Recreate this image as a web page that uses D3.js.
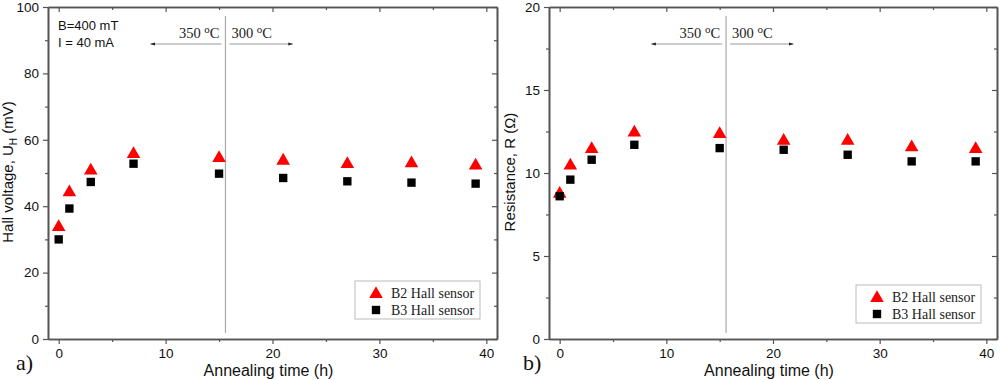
<!DOCTYPE html>
<html>
<head>
<meta charset="utf-8">
<script src="https://d3js.org/d3.v7.min.js"></script>
<style>
  body { margin: 0; background: #fff; }
  svg text { font-family: "Liberation Sans", Arial, sans-serif; }
  .serif { font-family: "Liberation Serif", "Times New Roman", serif !important; }
</style>
</head>
<body>
<svg id="chart" width="1000" height="380"></svg>
<script>
// annealing times (h)
var hours = [0, 1, 3, 7, 15, 21, 27, 33, 39];

// panel a) Hall voltage (mV)
var hallB2 = [34, 44.5, 51, 56, 54.8, 54, 53, 53.2, 52.5];
var hallB3 = [30, 39.3, 47.3, 52.8, 49.8, 48.5, 47.5, 47.1, 46.8];

// panel b) resistance (Ohm)
var resB2 = [8.8, 10.5, 11.5, 12.5, 12.4, 12.0, 12.0, 11.6, 11.5];
var resB3 = [8.6, 9.6, 10.8, 11.7, 11.5, 11.4, 11.1, 10.7, 10.7];

var hallTicks = [0, 20, 40, 60, 80, 100];
var resTicks = [0, 5, 10, 15, 20];
var xTicks = [0, 10, 20, 30, 40];
var switchTime = 15.6;

var svg = d3.select('#chart');
var axisColor = '#555';
var plotTop = 7;

function drawPanel(opt) {
  var x = d3.scaleLinear().domain([-1, 41]).range([opt.left, opt.right]);
  var y = d3.scaleLinear().domain(opt.yDomain).range([339, plotTop]);
  var g = svg.append('g');

  // bottom axis
  g.append('g').attr('transform', 'translate(0,339)')
    .call(d3.axisBottom(x).tickValues(xTicks).tickSize(5).tickPadding(4).tickSizeOuter(0));
  g.append('g').attr('transform', 'translate(0,339)')
    .call(d3.axisBottom(x).tickValues(d3.range(5, 40, 10)).tickSize(3).tickFormat('').tickSizeOuter(0));
  // top axis (inward ticks)
  g.append('g').attr('transform', 'translate(0,' + plotTop + ')')
    .call(d3.axisTop(x).tickValues(xTicks).tickSize(-5).tickFormat('').tickSizeOuter(0));
  g.append('g').attr('transform', 'translate(0,' + plotTop + ')')
    .call(d3.axisTop(x).tickValues(d3.range(5, 40, 10)).tickSize(-3).tickFormat('').tickSizeOuter(0));
  // left axis
  g.append('g').attr('transform', 'translate(' + opt.left + ',0)')
    .call(d3.axisLeft(y).tickValues(opt.yTicks).tickSize(5).tickPadding(4).tickSizeOuter(0));
  g.append('g').attr('transform', 'translate(' + opt.left + ',0)')
    .call(d3.axisLeft(y).tickValues(opt.yMinor).tickSize(3).tickFormat('').tickSizeOuter(0));
  // right axis (inward ticks)
  g.append('g').attr('transform', 'translate(' + opt.right + ',0)')
    .call(d3.axisRight(y).tickValues(opt.yTicks).tickSize(-5).tickFormat('').tickSizeOuter(0));
  g.append('g').attr('transform', 'translate(' + opt.right + ',0)')
    .call(d3.axisRight(y).tickValues(opt.yMinor).tickSize(-3).tickFormat('').tickSizeOuter(0));

  g.selectAll('.domain').attr('stroke', axisColor).attr('stroke-width', 1.6);
  g.selectAll('.tick line').attr('stroke', axisColor).attr('stroke-width', 1.2);
  g.selectAll('.tick text').attr('fill', '#111').style('font-size', '13.5px');

  // switch line 350 -> 300 C
  var sx = x(switchTime);
  g.append('line').attr('x1', sx).attr('x2', sx).attr('y1', 16).attr('y2', 333)
    .attr('stroke', '#aaa').attr('stroke-width', 1.2);

  // arrows
  var defsId = 'arr' + opt.id;
  svg.append('defs').append('marker').attr('id', defsId)
    .attr('viewBox', '0 0 10 10').attr('refX', 9).attr('refY', 5)
    .attr('markerWidth', 5).attr('markerHeight', 5).attr('orient', 'auto-start-reverse')
    .append('path').attr('d', 'M0,2 L10,5 L0,8 Z').attr('fill', '#222');
  g.append('line').attr('x1', sx - 4).attr('x2', x(8.6)).attr('y1', 44).attr('y2', 44)
    .attr('stroke', '#999').attr('stroke-width', 1).attr('marker-end', 'url(#' + defsId + ')');
  g.append('line').attr('x1', sx + 4).attr('x2', x(21.9)).attr('y1', 44).attr('y2', 44)
    .attr('stroke', '#999').attr('stroke-width', 1).attr('marker-end', 'url(#' + defsId + ')');

  var t1 = g.append('text').attr('class', 'serif').attr('x', sx - 6).attr('y', 38)
    .attr('text-anchor', 'end').style('font-size', '14.5px').attr('fill', '#222');
  t1.append('tspan').text('350 ');
  t1.append('tspan').attr('dy', -5).style('font-size', '11px').text('o');
  t1.append('tspan').attr('dy', 5).text('C');
  var t2 = g.append('text').attr('class', 'serif').attr('x', sx + 6).attr('y', 38)
    .style('font-size', '14.5px').attr('fill', '#222');
  t2.append('tspan').text('300 ');
  t2.append('tspan').attr('dy', -5).style('font-size', '11px').text('o');
  t2.append('tspan').attr('dy', 5).text('C');

  // data
  var tri = d3.symbol().type(d3.symbolTriangle).size(80);
  var sq = d3.symbol().type(d3.symbolSquare).size(70);
  g.selectAll('.b2').data(hours).enter().append('path')
    .attr('d', tri).attr('fill', '#f00')
    .attr('transform', function(d, i) { return 'translate(' + x(d) + ',' + (y(opt.b2[i]) + 1) + ')'; });
  g.selectAll('.b3').data(hours).enter().append('path')
    .attr('d', sq).attr('fill', '#000')
    .attr('transform', function(d, i) { return 'translate(' + x(d) + ',' + y(opt.b3[i]) + ')'; });

  // legend
  var lg = g.append('g').attr('transform', 'translate(' + opt.legX + ',' + opt.legY + ')');
  lg.append('rect').attr('width', 125).attr('height', 38)
    .attr('fill', '#fff').attr('stroke', '#bbb').attr('stroke-width', 1);
  lg.append('path').attr('d', tri).attr('fill', '#f00').attr('transform', 'translate(21,13)');
  lg.append('path').attr('d', sq).attr('fill', '#000').attr('transform', 'translate(21,29)');
  lg.append('text').attr('class', 'serif').attr('x', 36).attr('y', 17)
    .style('font-size', '14px').attr('fill', '#222').text('B2 Hall sensor');
  lg.append('text').attr('class', 'serif').attr('x', 36).attr('y', 34)
    .style('font-size', '14px').attr('fill', '#222').text('B3 Hall sensor');

  // axis titles
  svg.append('text').attr('x', (opt.left + opt.right) / 2 - 4).attr('y', 376)
    .attr('text-anchor', 'middle').style('font-size', '16px').attr('fill', '#111')
    .text('Annealing time (h)');
  var yl = svg.append('text').attr('transform', 'translate(' + opt.ylX + ',' + 172 + ') rotate(-90)')
    .attr('text-anchor', 'middle').style('font-size', '15px').attr('fill', '#111');
  opt.yLabel(yl);

  svg.append('text').attr('class', 'serif').attr('x', opt.tagX).attr('y', 370)
    .style('font-size', '22px').attr('fill', '#111').text(opt.tag);
}

drawPanel({
  id: 'a', left: 48, right: 497, yDomain: [0, 100], yTicks: hallTicks,
  yMinor: d3.range(10, 100, 20), b2: hallB2, b3: hallB3,
  legX: 355, legY: 281, ylX: 13, tagX: 16, tag: 'a)',
  yLabel: function(t) {
    t.append('tspan').text('Hall voltage, U');
    t.append('tspan').attr('dy', 4).style('font-size', '10px').text('H');
    t.append('tspan').attr('dy', -4).text(' (mV)');
  }
});

drawPanel({
  id: 'b', left: 549, right: 997, yDomain: [0, 20], yTicks: resTicks,
  yMinor: d3.range(2.5, 20, 5), b2: resB2, b3: resB3,
  legX: 856, legY: 285, ylX: 515, tagX: 523, tag: 'b)',
  yLabel: function(t) { t.text('Resistance, R (\u03a9)'); }
});

svg.append('text').attr('x', 58).attr('y', 30).style('font-size', '13px').attr('fill', '#111').text('B=400 mT');
svg.append('text').attr('x', 58).attr('y', 47).style('font-size', '13px').attr('fill', '#111').text('I = 40 mA');
</script>
</body>
</html>
